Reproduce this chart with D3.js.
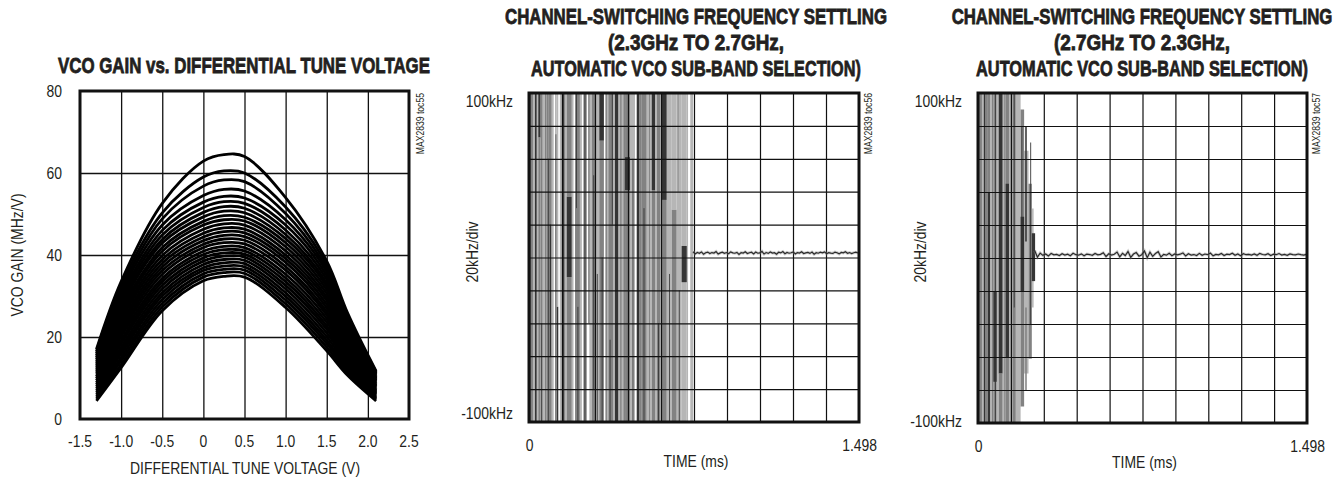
<!DOCTYPE html>
<html><head><meta charset="utf-8">
<script src="https://cdn.jsdelivr.net/npm/d3@7"></script>
<style>
body{margin:0;background:#fff;}
svg{display:block;}
text{font-family:"Liberation Sans",Arimo,Arial,sans-serif;fill:#231f20;}
</style></head><body>
<svg id="c" width="1341" height="481"></svg>
<script>
// ---------- DATA ----------
// Chart 1: VCO gain vs differential tune voltage (one array per sub-band curve)
const tuneVoltage = [-1.3, -1.0, -0.5, 0, 0.25, 0.5, 1.0, 1.5, 1.75, 2.1];
const vcoGainCurves = [
  [17.0, 33.5, 52.6, 62.9, 64.5, 64.0, 54.0, 38.5, 26.0, 11.7],
  [16.5, 32.7, 50.3, 59.0, 60.5, 60.0, 51.7, 37.6, 25.4, 11.4],
  [16.0, 31.8, 48.8, 56.8, 58.3, 57.9, 50.1, 36.7, 24.8, 11.1],
  [15.5, 31.0, 47.3, 54.5, 56.0, 55.6, 48.6, 35.9, 24.2, 10.8],
  [15.0, 30.1, 46.0, 52.9, 54.3, 53.9, 47.3, 35.0, 23.6, 10.5],
  [14.5, 29.3, 44.9, 51.6, 53.0, 52.6, 46.1, 34.1, 22.9, 10.2],
  [14.0, 28.5, 43.8, 50.4, 51.8, 51.4, 45.0, 33.2, 22.3, 9.9],
  [13.5, 27.6, 42.9, 49.3, 50.7, 50.3, 44.0, 32.4, 21.7, 9.7],
  [13.0, 26.8, 41.8, 48.2, 49.6, 49.2, 43.0, 31.5, 21.1, 9.4],
  [12.5, 25.9, 40.9, 47.3, 48.6, 48.3, 42.0, 30.6, 20.5, 9.1],
  [12.0, 25.1, 39.9, 46.3, 47.6, 47.3, 41.0, 29.7, 19.9, 8.8],
  [11.5, 24.3, 38.9, 45.3, 46.6, 46.3, 40.0, 28.9, 19.3, 8.5],
  [11.0, 23.4, 38.0, 44.4, 45.7, 45.4, 39.1, 28.0, 18.7, 8.2],
  [10.4, 22.6, 37.1, 43.5, 44.8, 44.5, 38.2, 27.1, 18.0, 7.9],
  [9.9, 21.7, 36.2, 42.6, 43.9, 43.6, 37.2, 26.2, 17.4, 7.6],
  [9.4, 20.9, 35.3, 41.8, 43.0, 42.7, 36.3, 25.4, 16.8, 7.3],
  [8.9, 20.1, 34.3, 40.9, 42.1, 41.8, 35.3, 24.5, 16.2, 7.0],
  [8.4, 19.2, 33.5, 40.1, 41.3, 41.0, 34.4, 23.6, 15.6, 6.7],
  [7.9, 18.4, 32.6, 39.3, 40.5, 40.2, 33.5, 22.7, 15.0, 6.4],
  [7.4, 17.5, 31.7, 38.5, 39.7, 39.5, 32.6, 21.9, 14.4, 6.2],
  [6.9, 16.7, 30.8, 37.7, 38.9, 38.7, 31.7, 21.0, 13.8, 5.9],
  [6.4, 15.9, 30.0, 36.9, 38.1, 37.9, 30.8, 20.1, 13.1, 5.6],
  [5.9, 15.0, 29.1, 36.2, 37.3, 37.1, 29.9, 19.2, 12.5, 5.3],
  [5.4, 14.2, 28.2, 35.4, 36.5, 36.3, 29.0, 18.4, 11.9, 5.0],
  [4.9, 13.3, 27.3, 34.6, 35.7, 35.5, 28.1, 17.5, 11.3, 4.7],
  [4.4, 12.5, 26.4, 33.7, 34.8, 34.6, 27.2, 16.6, 10.7, 4.4]
];
const vcoXTicks = [-1.5, -1.0, -0.5, 0, 0.5, 1.0, 1.5, 2.0, 2.5];
const vcoXTickLabels = ["-1.5", "-1.0", "-0.5", "0", "0.5", "1.0", "1.5", "2.0", "2.5"];
const vcoYTicks = [0, 20, 40, 60, 80];

// Scope charts: time grid (ms) and frequency grid (kHz)
const timeGrid = [0, 0.1498, 0.2996, 0.4494, 0.5992, 0.749, 0.8988, 1.0486, 1.1984, 1.3482, 1.498];
const freqGrid = [-100, -80, -60, -40, -20, 0, 20, 40, 60, 80, 100];
const timeTickValues = [0, 1.498];
const timeTickLabels = ["0", "1.498"];
const freqTickValues = [100, -100];
const freqTickLabels = ["100kHz", "-100kHz"];

// Transient persistence bands: [t0 ms, t1 ms, low kHz, high kHz, trace density 0..3]
const upTransient = [
  [0.000,0.008,-100,100,3],[0.008,0.018,-100,100,2],[0.018,0.027,-100,100,1],[0.027,0.035,-100,100,3],
  [0.035,0.042,-100,100,1],[0.042,0.052,73,100,3],[0.042,0.052,-100,73,2],[0.052,0.062,-100,100,2],
  [0.056,0.059,-100,-40,3],[0.062,0.072,-100,100,1],[0.072,0.080,-100,100,2],[0.080,0.090,-100,100,2],
  [0.086,0.089,-100,60,3],[0.090,0.103,-100,100,2],[0.095,0.100,-60,20,3],[0.103,0.112,-100,100,1],
  [0.118,0.126,-100,75,2],[0.118,0.126,75,100,1],[0.126,0.133,-100,-30,3],[0.126,0.133,-30,100,1],
  [0.140,0.148,-100,100,1],[0.148,0.163,-100,100,2],[0.155,0.159,-100,100,3],[0.163,0.171,-100,100,1],
  [0.171,0.194,-12,37,3],[0.171,0.194,37,100,2],[0.171,0.194,-100,-12,2],[0.194,0.202,-100,100,1],
  [0.209,0.231,-100,100,2],[0.220,0.224,-100,-30,3],[0.214,0.217,30,100,3],[0.231,0.240,-100,100,1],
  [0.247,0.262,-100,100,2],[0.252,0.256,-100,100,3],[0.270,0.274,-40,100,3],[0.274,0.285,-100,100,1],
  [0.285,0.300,-100,100,2],[0.292,0.295,-80,50,3],[0.300,0.319,-100,100,1],[0.308,0.311,-100,-10,3],
  [0.319,0.340,71,100,3],[0.319,0.340,-100,71,2],[0.330,0.334,-100,0,3],[0.345,0.360,-100,100,1],
  [0.350,0.354,-100,100,2],[0.360,0.383,-100,100,2],[0.366,0.370,-100,-50,3],[0.376,0.380,20,100,3],
  [0.383,0.390,-100,100,1],[0.390,0.405,-100,100,3],[0.405,0.428,-100,100,1],[0.414,0.420,-100,100,2],
  [0.428,0.436,-100,100,2],[0.436,0.458,-100,100,2],[0.436,0.458,41,61,3],[0.450,0.454,-100,-20,3],
  [0.458,0.481,-100,100,1],[0.470,0.474,-100,60,3],[0.489,0.500,-100,100,3],[0.500,0.512,-100,100,2],
  [0.512,0.534,-100,100,2],[0.520,0.524,-100,30,3],[0.534,0.557,-100,100,1],[0.545,0.549,-100,100,2],
  [0.557,0.572,41,100,3],[0.557,0.572,-100,41,2],[0.572,0.580,-100,100,1],[0.580,0.595,-100,100,2],
  [0.586,0.590,-100,-40,3],[0.595,0.602,-100,100,1],[0.602,0.625,35,100,3],[0.602,0.625,-100,35,2],
  [0.625,0.648,-100,100,1],[0.636,0.639,-100,-10,3],[0.648,0.670,-100,29,2],[0.648,0.670,29,100,1],
  [0.670,0.693,-100,100,1],[0.680,0.684,-100,-20,3],[0.675,0.678,40,100,2],[0.693,0.716,-100,100,1],
  [0.693,0.716,-15,7,3],[0.716,0.722,-100,100,1],[0.732,0.745,-100,100,1]
];
const downTransient = [
  [0.000,0.006,-100,100,3],[0.006,0.018,-100,100,2],[0.018,0.026,-100,100,1],[0.026,0.032,-100,100,3],
  [0.032,0.045,-100,100,2],[0.045,0.055,-100,40,3],[0.045,0.055,40,100,2],[0.055,0.062,-100,100,1],
  [0.062,0.070,-100,100,2],[0.070,0.085,-100,100,2],[0.070,0.085,-75,-20,3],[0.078,0.081,-100,100,3],
  [0.085,0.094,-100,100,1],[0.094,0.112,-70,100,3],[0.094,0.112,-100,-70,2],[0.112,0.119,-100,100,1],
  [0.119,0.126,-100,100,2],[0.126,0.141,-100,100,2],[0.126,0.141,-60,45,3],[0.141,0.149,-100,100,1],
  [0.149,0.157,-100,100,2],[0.151,0.154,-100,-20,3],[0.157,0.172,-100,100,2],[0.163,0.166,-30,100,3],
  [0.172,0.194,-100,100,1],[0.194,0.210,-90,90,2],[0.194,0.210,-20,25,3],[0.198,0.201,20,80,3],
  [0.210,0.230,-70,65,1],[0.215,0.222,10,80,3],[0.215,0.222,-80,-30,2],[0.230,0.245,-61,45,2],
  [0.238,0.242,-40,70,3],[0.245,0.260,-14,15,3],[0.248,0.252,-30,30,2]
];

// Settled frequency error after lock (kHz)
const upSettleStart = 0.745;
const upSettleStep = 0.00947;
const upSettled = [3.5,2.2,3.1,2.6,3.4,2.0,2.9,3.3,2.4,3.0,2.7,3.6,2.1,2.8,3.2,2.5,3.0,2.3,3.4,2.8,
  2.6,3.1,1.9,3.0,2.7,3.5,2.4,2.9,3.2,2.2,3.3,2.6,2.8,3.7,2.1,3.0,2.5,3.4,2.7,2.9,
  2.0,3.2,2.8,3.6,2.3,3.1,2.6,2.9,3.4,2.2,3.0,2.7,3.5,2.4,2.8,3.1,2.5,3.3,2.0,2.9,
  2.6,3.2,2.8,3.4,2.3,3.0,2.7,2.5,3.3,2.9,2.2,3.1,2.8,3.5,2.6,3.0,2.4,2.9,3.2,2.7];
const downSettleStart = 0.258;
const downSettleStep = 0.0125;
const downSettled = [4.5,0.5,3.0,1.6,2.4,1.2,2.8,1.9,2.2,1.5,2.6,1.8,2.3,1.4,2.9,2.0,1.7,2.5,1.3,2.4,
  2.1,1.6,2.7,1.9,2.2,3.2,0.9,2.6,1.8,2.3,3.6,0.7,2.8,1.5,3.9,0.4,2.4,3.3,1.1,2.0,
  4.2,0.2,3.5,1.0,2.7,3.8,0.6,2.2,1.7,2.9,1.4,2.5,1.9,2.3,3.1,1.2,2.6,1.8,2.1,1.5,
  2.8,1.6,2.4,2.0,3.0,1.3,2.2,1.9,2.7,1.5,2.3,2.1,2.9,1.7,2.4,1.4,2.6,2.0,2.2,1.8,
  2.5,1.6,2.8,2.1,1.9,2.6,1.5,2.3,2.0,2.7,1.8,2.2,1.6,2.5,2.1,1.9,2.4,2.0,1.7,2.2];

// ---------- DRAW ----------
const svg = d3.select('#c');
const densityColor = d3.scaleOrdinal().domain([0,1,2,3]).range(['#ffffff','#b6b6b6','#828282','#353535']);

// condensed text helper (Liberation Sans squeezed like a narrow face)
function txt(x, y, s, o = {}) {
  const rot = o.rot || 0, sx = o.sx || 0.82;
  const t = svg.append('text')
    .attr('transform', `translate(${x},${y}) rotate(${rot}) scale(${sx},1)`)
    .attr('text-anchor', o.anchor || 'start')
    .style('font-size', (o.size || 17) + 'px')
    .text(s);
  if (o.dy) t.attr('dy', o.dy);
  if (o.bold) t.style('font-weight', 'bold').style('stroke', '#231f20').style('stroke-width', 0.8);
  if (o.width) {
    const len = t.node().getComputedTextLength();
    const k = Math.min(o.width / len, o.maxScale || 0.9);
    t.attr('transform', `translate(${x},${y}) rotate(${rot}) scale(${k},1)`);
  }
  return t;
}
function titleLines(cx, lines) {
  lines.forEach(l => txt(cx, l.y, l.t, {anchor: 'middle', size: 22, bold: true, width: l.w, maxScale: 0.86}));
}
function grid(g, x, y, xt, yt, w, h, gridW) {
  g.append('g').attr('transform', `translate(0,${h})`)
    .call(d3.axisBottom(x).tickValues(xt).tickSize(-h).tickFormat(''))
    .call(s => { s.select('.domain').remove(); s.selectAll('line').attr('stroke','#111').attr('stroke-width',gridW); });
  g.append('g')
    .call(d3.axisLeft(y).tickValues(yt).tickSize(-w).tickFormat(''))
    .call(s => { s.select('.domain').remove(); s.selectAll('line').attr('stroke','#111').attr('stroke-width',gridW); });
}
function frame(g, w, h, fw) {
  g.append('rect').attr('x',0).attr('y',0).attr('width',w).attr('height',h)
    .attr('fill','none').attr('stroke','#111').attr('stroke-width',fw);
}
function sideNote(x, y, s) {
  txt(x, y, s, {rot: -90, anchor: 'end', size: 10.5});
}

// ===== Chart 1 =====
(function(){
  const L = 80, T = 91, W = 329, H = 328;
  const x = d3.scaleLinear().domain([-1.5, 2.5]).range([L, L + W]);
  const y = d3.scaleLinear().domain([0, 80]).range([T + H, T]);
  const g = svg.append('g').attr('transform', `translate(${L},${T})`);
  const xl = d3.scaleLinear().domain(x.domain()).range([0, W]);
  const yl = d3.scaleLinear().domain(y.domain()).range([H, 0]);
  titleLines(244, [{t:'VCO GAIN vs. DIFFERENTIAL TUNE VOLTAGE', y:73, w:372}]);
  grid(g, xl, yl, vcoXTicks.slice(1,-1), vcoYTicks.slice(1,-1), W, H, 1.3);
  const line = d3.line().x((d,i) => xl(tuneVoltage[i])).y(d => yl(d)).curve(d3.curveCatmullRom.alpha(0.5));
  g.append('g').selectAll('path').data(vcoGainCurves).join('path')
    .attr('d', line).attr('fill','none').attr('stroke','#000').attr('stroke-width',2.8)
    .attr('stroke-linejoin','round');
  frame(g, W, H, 3);
  vcoXTicks.forEach((v,i) => txt(x(v), 447, vcoXTickLabels[i], {anchor:'middle'}));
  vcoYTicks.forEach(v => txt(62, y(v), String(v), {anchor:'end', dy:'0.36em'}));
  txt(245, 474, 'DIFFERENTIAL TUNE VOLTAGE (V)', {anchor:'middle'});
  txt(23, T + H/2, 'VCO GAIN (MHz/V)', {anchor:'middle', rot:-90});
  sideNote(424, 93, 'MAX2839 toc55');
})();

// ===== Scope charts =====
function scope(opt) {
  const {L, T, W, H} = opt;
  const x = d3.scaleLinear().domain([0, 1.498]).range([0, W]);
  const y = d3.scaleLinear().domain([-100, 100]).range([H, 0]);
  const g = svg.append('g').attr('transform', `translate(${L},${T})`);
  titleLines(opt.cx, opt.title);
  const bands = opt.transient.slice().sort((a,b) => a[4] - b[4]);
  g.append('g').selectAll('rect').data(bands).join('rect')
    .attr('x', d => x(d[0])).attr('width', d => Math.max(0.8, x(d[1]) - x(d[0])))
    .attr('y', d => y(d[3])).attr('height', d => y(d[2]) - y(d[3]))
    .attr('fill', d => densityColor(d[4]));
  grid(g, x, y, timeGrid.slice(1,-1), freqGrid.slice(1,-1), W, H, 1.2);
  const line = d3.line().x((d,i) => x(opt.settleStart + i*opt.settleStep)).y(d => y(d));
  g.append('path').datum(opt.settled).attr('d', line).attr('fill','none')
    .attr('stroke','#888').attr('stroke-width',3).attr('opacity',0.4);
  g.append('path').datum(opt.settled).attr('d', line).attr('fill','none')
    .attr('stroke','#2a2a2a').attr('stroke-width',1.2);
  frame(g, W, H, 3);
  txt(opt.yLabRight, T + y(freqTickValues[0]) + opt.topOff, freqTickLabels[0], {anchor:'end', dy:'0.36em'});
  txt(opt.yLabRight, T + y(freqTickValues[1]) - opt.botOff, freqTickLabels[1], {anchor:'end', dy:'0.36em'});
  txt(L + x(timeTickValues[0]) + 0.5, T + H + 29, timeTickLabels[0], {anchor:'middle'});
  txt(L + x(timeTickValues[1]) + 18, T + H + 29, timeTickLabels[1], {anchor:'end'});
  txt(L + W/2 + 2, T + H + 45, 'TIME (ms)', {anchor:'middle'});
  txt(opt.yLabX, 252, '20kHz/div', {anchor:'middle', rot:-90});
  sideNote(L + W + 13, T, opt.note);
}

scope({L:529, T:93, W:330, H:329, cx:696,
  title:[{t:'CHANNEL-SWITCHING FREQUENCY SETTLING', y:24, w:382},
         {t:'(2.3GHz TO 2.7GHz,', y:50, w:210},
         {t:'AUTOMATIC VCO SUB-BAND SELECTION)', y:76, w:330}],
  transient: upTransient, settled: upSettled, settleStart: upSettleStart, settleStep: upSettleStep,
  topOff: 8, botOff: 9, yLabX: 478, yLabRight: 513, note: 'MAX2839 toc56'});

scope({L:978, T:93, W:329, H:330, cx:1142,
  title:[{t:'CHANNEL-SWITCHING FREQUENCY SETTLING', y:24, w:381},
         {t:'(2.7GHz TO 2.3GHz,', y:50, w:210},
         {t:'AUTOMATIC VCO SUB-BAND SELECTION)', y:76, w:332}],
  transient: downTransient, settled: downSettled, settleStart: downSettleStart, settleStep: downSettleStep,
  topOff: 8, botOff: 2, yLabX: 926, yLabRight: 962, note: 'MAX2839 toc57'});
</script>
</body></html>
